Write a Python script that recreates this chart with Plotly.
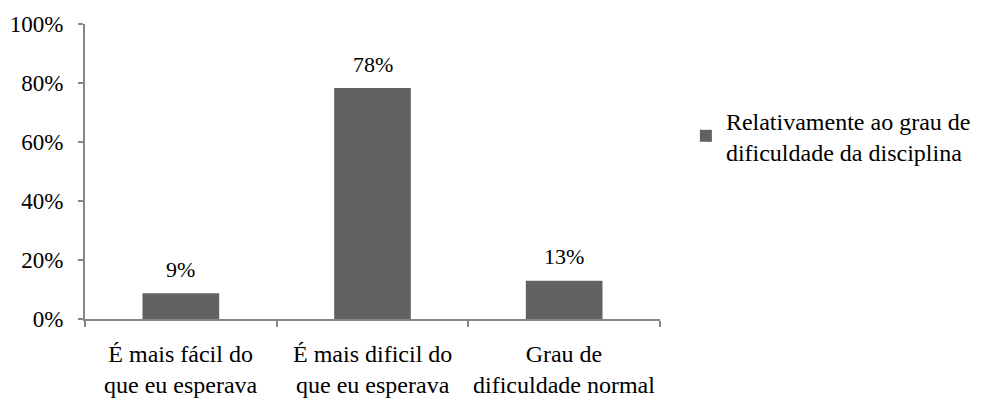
import plotly.graph_objects as go

# Data
categories = ['É mais fácil do<br>que eu esperava', 'É mais dificil do<br>que eu esperava', 'Grau de<br>dificuldade normal']
values = [0.087, 0.783, 0.13]
series_name = 'Relativamente ao grau de<br>dificuldade da disciplina'
y_ticks = [0, 0.2, 0.4, 0.6, 0.8, 1.0]

FONT = 'Liberation Serif'
AXIS_COLOR = '#868686'
BAR_COLOR = '#626262'

fig = go.Figure(data=[
	go.Bar(name=series_name, x=categories, y=values, marker_color=BAR_COLOR,
		marker_line_width=0, width=0.4, hoverinfo='x+y')
])

# Data labels above the bars (annotations, so the gap can be set)
for cat, val in zip(categories, values):
	fig.add_annotation(x=cat, y=val, xref='x', yref='y', text=str(round(val * 100)) + '%',
		showarrow=False, yanchor='middle', yshift=24, font=dict(family=FONT, size=22, color='black'))

# Category labels under the axis
for cat in categories:
	fig.add_annotation(x=cat, y=0, xref='x', yref='paper', text=cat, showarrow=False,
		yanchor='top', yshift=-20, font=dict(family=FONT, size=24, color='black'))

# page body has an 8px margin, so the figure is shrunk and shifted
fig.update_layout(
	width=977, height=392,
	margin=dict(l=77, r=325, t=16, b=81, autoexpand=False),
	plot_bgcolor='white', paper_bgcolor='white',
	font=dict(family=FONT, size=23, color='black'),
	showlegend=True,
	legend=dict(x=1.045, y=0.62, xanchor='left', yanchor='middle',
		font=dict(family=FONT, size=24, color='black'), tracegroupgap=0),
	bargap=0.6,
)
fig.update_xaxes(showline=True, linecolor=AXIS_COLOR, linewidth=2,
	ticks='outside', tickson='boundaries', ticklen=6, tickcolor=AXIS_COLOR, tickwidth=2,
	showgrid=False, showticklabels=False, automargin=False)
fig.update_yaxes(range=[0, 1], tickvals=y_ticks, tickformat='.0%',
	showline=True, linecolor=AXIS_COLOR, linewidth=2,
	ticks='outside', ticklen=5, tickcolor=AXIS_COLOR, tickwidth=2, showgrid=False, zeroline=False,
	ticklabelstandoff=10, tickfont=dict(family=FONT, size=23, color='black'), automargin=False)

fig.write_html('out.html')
